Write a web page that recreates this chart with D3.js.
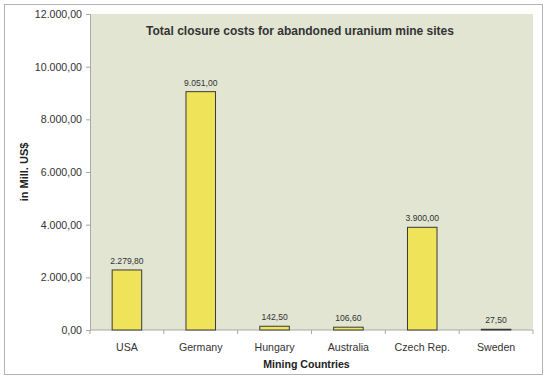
<!DOCTYPE html>
<html>
<head>
<meta charset="utf-8">
<style>
  body { margin: 0; background: #fff; }
  svg { display: block; font-family: "Liberation Sans", Arial, sans-serif; }
</style>
</head>
<body>
<svg></svg>
<script src="https://cdn.jsdelivr.net/npm/d3@7"></script>
<script>
  const countries = ["USA", "Germany", "Hungary", "Australia", "Czech Rep.", "Sweden"]
  const costs = [2279.80, 9051.00, 142.50, 106.60, 3900.00, 27.50]
  const yTicks = [0, 2000, 4000, 6000, 8000, 10000, 12000]

  const width = 548, height = 379
  const margin = {left: 90, top: 14, right: 15, bottom: 49}
  const w = width - margin.left - margin.right,
        h = height - margin.top - margin.bottom

  const fmt = d3.formatLocale({decimal: ",", thousands: ".", grouping: [3], currency: ["", ""]}).format(",.2f")

  const svg = d3.select("svg")
    .attr("width", width)
    .attr("height", height)

  // outer frame
  svg.append("rect")
    .attr("x", 4.5).attr("y", 4.5)
    .attr("width", 538).attr("height", 370)
    .attr("fill", "#fff")
    .attr("stroke", "#b4b4b4")

  const g = svg.append("g")
    .attr("transform", `translate(${margin.left}, ${margin.top})`)

  const x = d3.scaleBand()
    .domain(countries)
    .range([0, w])
    .paddingInner(0.6)
    .paddingOuter(0.3)

  const y = d3.scaleLinear()
    .domain([0, 12000])
    .range([h, 0])

  g.append("rect")
    .attr("width", w).attr("height", h)
    .attr("fill", "#e1e5d2")

  const yAxis = g.append("g")
    .call(d3.axisLeft(y).tickValues(yTicks).tickFormat(fmt).tickSize(4).tickPadding(4))
  yAxis.select(".domain").attr("stroke", "#a8a8a8")
  yAxis.selectAll(".tick line").attr("stroke", "#a8a8a8")
  yAxis.selectAll("text").attr("fill", "#333").style("font-size", "10.6px")

  // x axis, ticks sit between the categories
  const xAxis = g.append("g").attr("transform", `translate(0, ${h})`)
  xAxis.append("line")
    .attr("x1", 0).attr("x2", w)
    .attr("stroke", "#a8a8a8")
  xAxis.selectAll(".sep")
    .data(d3.range(countries.length + 1))
    .enter().append("line")
    .attr("x1", i => i * x.step())
    .attr("x2", i => i * x.step())
    .attr("y1", 0).attr("y2", 4)
    .attr("stroke", "#a8a8a8")
  xAxis.selectAll(".lbl")
    .data(countries)
    .enter().append("text")
    .attr("x", d => x(d) + x.bandwidth() / 2)
    .attr("y", 21)
    .attr("text-anchor", "middle")
    .attr("fill", "#333")
    .style("font-size", "10.6px")
    .text(d => d)

  g.selectAll(".bar")
    .data(costs)
    .enter().append("rect")
    .attr("x", (d, i) => x(countries[i]))
    .attr("y", d => y(d))
    .attr("width", x.bandwidth())
    .attr("height", d => h - y(d))
    .attr("fill", "#efe35a")
    .attr("stroke", "#3a3a3a")
    .attr("stroke-width", 1)

  g.selectAll(".val")
    .data(costs)
    .enter().append("text")
    .attr("x", (d, i) => x(countries[i]) + x.bandwidth() / 2)
    .attr("y", d => y(d) - 6)
    .attr("text-anchor", "middle")
    .attr("fill", "#333")
    .style("font-size", "8.6px")
    .text(d => fmt(d))

  g.append("text")
    .attr("x", 210)
    .attr("y", 21)
    .attr("text-anchor", "middle")
    .attr("fill", "#333")
    .style("font-size", "12px")
    .style("font-weight", "bold")
    .text("Total closure costs for abandoned uranium mine sites")

  g.append("text")
    .attr("x", w / 2 - 5)
    .attr("y", h + 38)
    .attr("text-anchor", "middle")
    .attr("fill", "#222")
    .style("font-size", "10.6px")
    .style("font-weight", "bold")
    .text("Mining Countries")

  g.append("text")
    .attr("transform", `translate(${-62}, ${h / 2}) rotate(-90)`)
    .attr("text-anchor", "middle")
    .attr("fill", "#222")
    .style("font-size", "11px")
    .style("font-weight", "bold")
    .text("in Mill. US$")
</script>
</body>
</html>
